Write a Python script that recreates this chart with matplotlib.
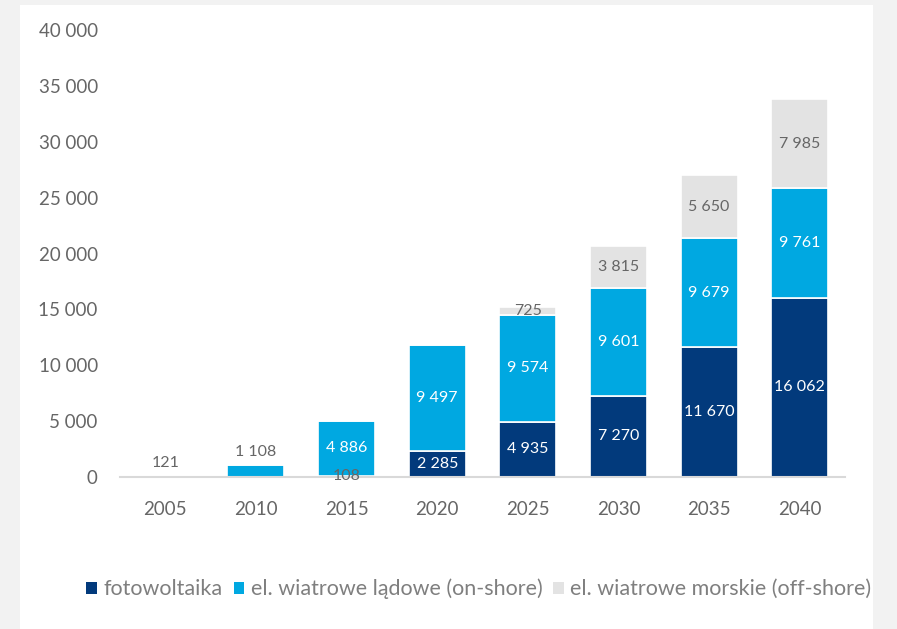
import matplotlib
matplotlib.use("Agg")
import matplotlib.pyplot as plt
from matplotlib.patches import Rectangle, Patch
import numpy as np

plt.rcParams['font.family'] = ['Lato', 'DejaVu Sans']

years = ['2005', '2010', '2015', '2020', '2025', '2030', '2035', '2040']
fotowoltaika = [0, 0, 108, 2285, 4935, 7270, 11670, 16062]
onshore = [121, 1108, 4886, 9497, 9574, 9601, 9679, 9761]
offshore = [0, 0, 0, 0, 725, 3815, 5650, 7985]

series_names = ['fotowoltaika', 'el. wiatrowe lądowe (on-shore)',
                'el. wiatrowe morskie (off-shore)']
colors = ['#023a7c', '#00a8e1', '#e3e3e3']
text_gray = '#666666'


def fmt(v):
    return f'{v:,}'.replace(',', ' ')


fig = plt.figure(figsize=(8.97, 6.29), dpi=100, facecolor='#f2f2f2')
# white card behind the chart
fig.patches.append(Rectangle((20 / 897, 0), 853 / 897, 624 / 629,
                             transform=fig.transFigure, facecolor='white',
                             edgecolor='none', zorder=-1))

ax = fig.add_axes([120 / 897, 152 / 629, 725 / 897, 447 / 629])
ax.set_zorder(1)
ax.set_facecolor('none')

x = np.arange(len(years))
width = 0.63
bottom = np.zeros(len(years))
for name, vals, col in zip(series_names, [fotowoltaika, onshore, offshore], colors):
    vals = np.array(vals)
    ax.bar(x, vals, width, bottom=bottom, color=col, edgecolor='white',
           linewidth=1.2, label=name, zorder=2)
    for xi, v, b in zip(x, vals, bottom):
        if v == 0:
            continue
        if col == colors[1] and v < 2000:
            # short bars get their label above the top
            ax.text(xi, b + v + 500, fmt(v), ha='center', va='bottom',
                    color=text_gray, fontsize=11.5, zorder=3)
        else:
            tc = 'white' if (col != colors[2] and v > 1000) else text_gray
            ax.text(xi, b + v / 2, fmt(v), ha='center', va='center',
                    color=tc, fontsize=11.5, zorder=3)
    bottom += vals

ax.set_xlim(-0.5, len(years) - 0.5)
ax.set_ylim(0, 40000)
ax.set_yticks(range(0, 40001, 5000))
ax.set_yticklabels([fmt(v) for v in range(0, 40001, 5000)])
ax.set_xticks(x)
ax.set_xticklabels(years)
ax.tick_params(axis='both', length=0, colors=text_gray, labelsize=13.5)
ax.tick_params(axis='y', pad=16)
ax.tick_params(axis='x', pad=17)
for side in ['top', 'right', 'left']:
    ax.spines[side].set_visible(False)
ax.spines['bottom'].set_color('#d9d9d9')
ax.spines['bottom'].set_linewidth(1.5)

handles = [Patch(facecolor=c, edgecolor='none') for c in colors]
leg = fig.legend(handles, series_names, loc='center', bbox_to_anchor=(479 / 897, 1 - 589 / 629),
                 ncol=3, frameon=False, fontsize=15.5, handlelength=0.5,
                 handleheight=0.5, handletextpad=0.3, columnspacing=0.5)
for t in leg.get_texts():
    t.set_color('#7f7f7f')

fig.savefig('out.png', dpi=100, facecolor=fig.get_facecolor())
